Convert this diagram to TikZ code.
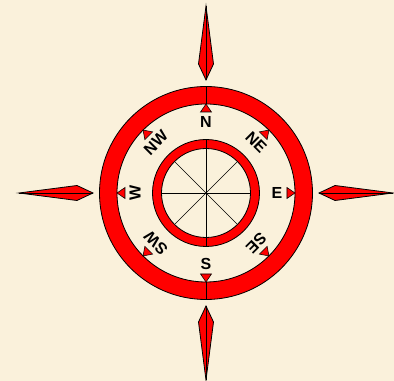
\documentclass[tikz,border=0pt]{standalone}
\usepackage{fontspec}
\setmainfont{Liberation Sans}
\usetikzlibrary{calc}
\definecolor{bgcream}{RGB}{250,241,219}
\definecolor{compassred}{RGB}{255,0,0}

\begin{document}
\begin{tikzpicture}[x=0.75pt,y=0.75pt,
  ringfill/.style={fill=compassred,draw=black,line width=0.6pt,even odd rule},
  spike/.style={fill=compassred,draw=black,line width=0.6pt,line join=miter},
  marker/.style={fill=compassred,draw=black,line width=0.4pt},
  pointlabel/.style={font=\fontsize{12}{14}\selectfont\bfseries,inner sep=0pt}]
  \useasboundingbox (-206,-188) rectangle (188,193);
  % background
  \fill[bgcream] (-206,-188) rectangle (188,193);
  \coordinate (O) at (0,0);
  % four spikes
  \foreach \a in {0,90,180,270}{
    \begin{scope}[rotate=\a]
      \draw[spike] (113,0) -- (129,7.5) -- (187,0) -- (129,-7.5) -- cycle;
      \draw[line width=0.6pt] (113,0) -- (187,0);
    \end{scope}
  }
  % rings
  \draw[ringfill] (O) circle (106.5) circle (89);
  \draw[ringfill] (O) circle (53.5) circle (44.5);
  % diameters of the inner disk
  \foreach \a in {0,45,90,135}
    \draw[line width=0.5pt] (\a:44.5) -- (\a+180:44.5);
  % vertical line through the rings
  \foreach \a in {90,270}{
    \draw[line width=0.6pt] (\a:53.5) -- (\a:44.5);
    \draw[line width=0.6pt] (\a:106.5) -- (\a:89);
  }
  % markers and labels
  \foreach \a/\txt/\rot in {90/N/0, 45/NE/-45, 0/E/0, -45/SE/-135,
                            -90/S/0, -135/SW/135, 180/W/90, 135/NW/45}{
    \begin{scope}[rotate=\a]
      \draw[marker] (89,0) -- (81,5.5) -- (81,-5.5) -- cycle;
    \end{scope}
    \node[pointlabel,rotate=\rot] (lbl-\txt) at (\a:71) {\txt};
  }
\end{tikzpicture}
\end{document}
